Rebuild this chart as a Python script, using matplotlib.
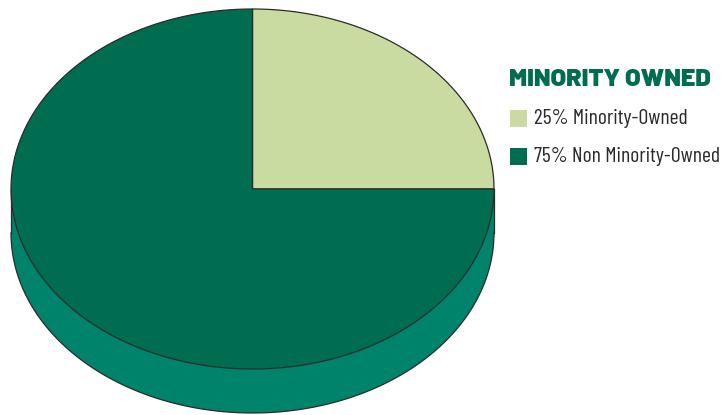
import numpy as np
import matplotlib
matplotlib.use("Agg")
import matplotlib.pyplot as plt
from matplotlib.patches import Polygon, Rectangle

# ownership split
labels = ["25% Minority-Owned", "75% Non Minority-Owned"]
shares = [25, 75]
top_colors = ["#c9dba1", "#006c50"]
side_colors = ["#b4c98a", "#00836b"]
title = "MINORITY OWNED"

FONT = ["Barlow Condensed", "DejaVu Sans"]
TITLE_FONT = ["Barlow", "DejaVu Sans"]

W, H = 724, 415
fig = plt.figure(figsize=(W / 100, H / 100), dpi=100)
ax = fig.add_axes([0, 0, 1, 1])
ax.set_xlim(0, W)
ax.set_ylim(H, 0)
ax.set_axis_off()

# ellipse geometry in pixel space
cx, cy = 252.5, 189.0
rx, ry = 241.5, 180.0
depth = 44.0
edge = "#2b2b2b"


def pt(theta_deg, dy=0.0):
    t = np.radians(theta_deg)
    return cx + rx * np.cos(t), cy - ry * np.sin(t) + dy


def arc(a0, a1, dy=0.0, n=200):
    ts = np.linspace(a0, a1, n)
    return [pt(t, dy) for t in ts]


# slice angles: start at 12 o'clock, run clockwise
bounds = []
start = 90.0
for s in shares:
    end = start - 360.0 * s / sum(shares)
    bounds.append((start, end))
    start = end

# side walls: only the front half (180..360 deg) is visible
for (a0, a1), col in zip(bounds, side_colors):
    for shift in (0, 360, -360):
        s_hi, s_lo = a0 + shift, a1 + shift
        v_hi = min(s_hi, 360.0)
        v_lo = max(s_lo, 180.0)
        if v_hi > v_lo:
            top = arc(v_lo, v_hi)
            bot = arc(v_hi, v_lo, dy=depth)
            ax.add_patch(Polygon(top + bot, closed=True, facecolor=col,
                                 edgecolor="none", zorder=1))

# outline of the wall's lower rim
ax.plot(*zip(*arc(180, 360, dy=depth)), color=edge, lw=0.9, zorder=2)
ax.plot([cx - rx, cx - rx], [cy, cy + depth], color=edge, lw=0.9, zorder=2)
ax.plot([cx + rx, cx + rx], [cy, cy + depth], color=edge, lw=0.9, zorder=2)

# top faces
for (a0, a1), col in zip(bounds, top_colors):
    poly = [(cx, cy)] + arc(a0, a1)
    ax.add_patch(Polygon(poly, closed=True, facecolor=col,
                         edgecolor=edge, lw=0.9, zorder=3))

# legend
lx = 510
ax.text(lx - 1, 79, title, color="#006c50", fontsize=18.2, fontweight=900,
        family=TITLE_FONT, ha="left", va="center")
for i, (lab, col) in enumerate(zip(labels, top_colors)):
    y = 118 + 38 * i
    ax.add_patch(Rectangle((lx, y - 8.5), 17, 17, facecolor=col,
                           edgecolor="none", zorder=3))
    ax.text(lx + 24, y, lab, color="#2a2a2a", fontsize=15.6,
            family=FONT, ha="left", va="center")

fig.savefig("out.png", dpi=100)
